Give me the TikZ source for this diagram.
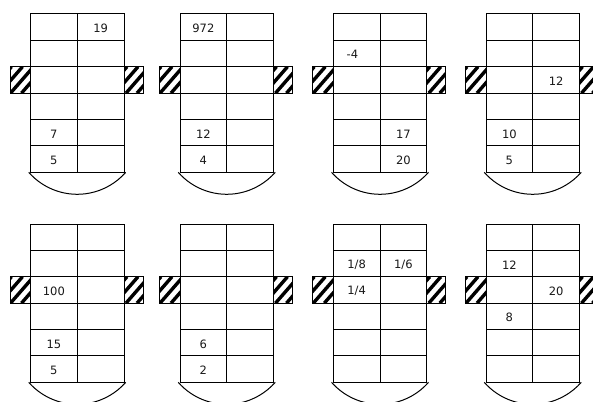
\documentclass[tikz,border=0pt]{standalone}
\usepackage{fontspec}
\setmainfont{DejaVu Sans}
\tikzset{
  gridline/.style={line width=1pt, draw=black},
  stripe/.style={line width=3.4pt, black},
  txt/.style={inner sep=0pt, font=\fontsize{11.5}{13}\selectfont, text=black!90},
}
\newcommand\drawpanel[2]{%
  \begin{scope}[shift={(#1,#2)}]
    % hatched blocks
    \begin{scope}
      \clip (-20.5,52.76) rectangle (0,79.14);
      \foreach \k in {-4,...,2} \draw[stripe] (\k*11+2,79.14) -- ++(23,-26.4);
    \end{scope}
    \draw[line width=0.8pt] (-20.5,52.76) rectangle (0,79.14);
    \begin{scope}
      \clip (93.5,52.76) rectangle (112.5,79.14);
      \foreach \k in {-4,...,2} \draw[stripe] (93.5+\k*11+2,79.14) -- ++(23,-26.4);
    \end{scope}
    \draw[line width=0.8pt] (93.5,52.76) rectangle (112.5,79.14);
    % grid
    \draw[gridline] (0,0) rectangle (93.5,158.3);
    \foreach \r in {1,...,5} \draw[gridline] (0,\r*26.38) -- (93.5,\r*26.38);
    \draw[gridline] (46.75,0) -- (46.75,158.3);
    % bow
    \draw[gridline] (-1.75,158.3) arc[start angle=138.8, end angle=41.2, radius=64.45];
  \end{scope}}
\newcommand\celltext[6]{% name, left, top, col, row, text
  \node[txt] (#1) at ({#2+(#4-0.5)*46.75},{#3+(#5-0.5)*26.38+1.2}) {#6};}
\begin{document}
\begin{tikzpicture}[x=1pt,y=-1pt]
  \useasboundingbox (0,0) rectangle (593,401);
  \fill[white] (0,0) rectangle (593,401);
  \drawpanel{30.5}{14}
  \drawpanel{180}{14}
  \drawpanel{333.3}{14}
  \drawpanel{486}{14}
  \drawpanel{30.5}{224}
  \drawpanel{180}{224}
  \drawpanel{333.3}{224}
  \drawpanel{486}{224}
  % panel 1 top
  \celltext{a1}{30.5}{14}{2}{1}{19}
  \celltext{a2}{30.5}{14}{1}{5}{7}
  \celltext{a3}{30.5}{14}{1}{6}{5}
  % panel 2 top
  \celltext{b1}{180}{14}{1}{1}{972}
  \celltext{b2}{180}{14}{1}{5}{12}
  \celltext{b3}{180}{14}{1}{6}{4}
  % panel 3 top
  \celltext{c1}{329}{14}{1}{2}{-4}
  \celltext{c2}{333.3}{14}{2}{5}{17}
  \celltext{c3}{333.3}{14}{2}{6}{20}
  % panel 4 top
  \celltext{d1}{486}{14}{2}{3}{12}
  \celltext{d2}{486}{14}{1}{5}{10}
  \celltext{d3}{486}{14}{1}{6}{5}
  % panel 1 bottom
  \celltext{e1}{30.5}{224}{1}{3}{100}
  \celltext{e2}{30.5}{224}{1}{5}{15}
  \celltext{e3}{30.5}{224}{1}{6}{5}
  % panel 2 bottom
  \celltext{f1}{180}{224}{1}{5}{6}
  \celltext{f2}{180}{224}{1}{6}{2}
  % panel 3 bottom
  \celltext{g1}{333.3}{224}{1}{2}{1/8}
  \celltext{g2}{333.3}{224}{2}{2}{1/6}
  \celltext{g3}{333.3}{224}{1}{3}{1/4}
  % panel 4 bottom
  \celltext{h1}{486}{224}{1}{2}{12}
  \celltext{h2}{486}{224}{2}{3}{20}
  \celltext{h3}{486}{224}{1}{4}{8}
\end{tikzpicture}
\end{document}
